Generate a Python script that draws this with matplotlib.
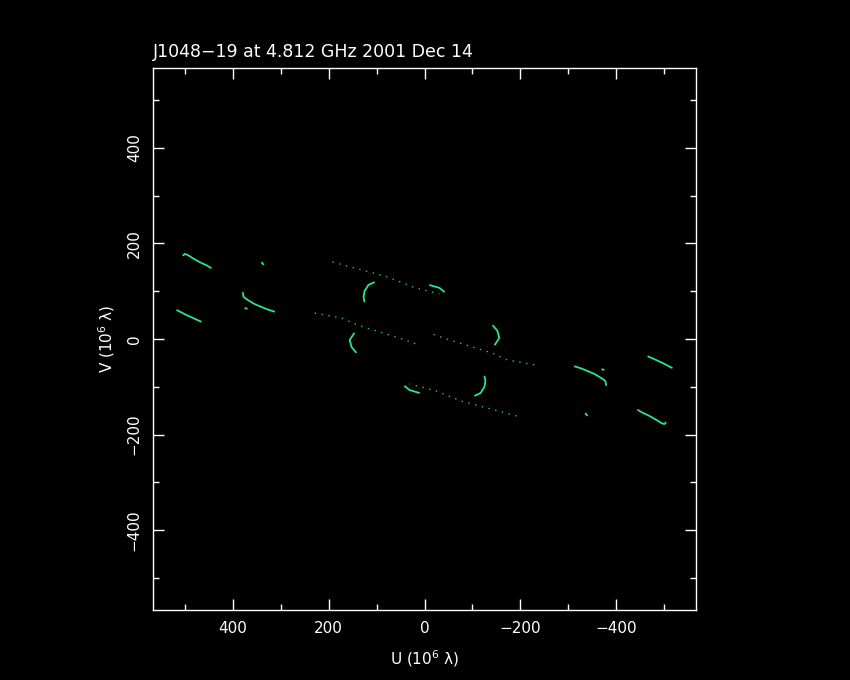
import matplotlib.pyplot as plt
import numpy as np

title = 'J1048\u221219 at 4.812 GHz 2001 Dec 14'

# uv tracks in units of 10^6 wavelengths (one half; the other half is the conjugate -u,-v)
arc_u = [
    [504, 500, 494, 483, 469, 454, 444],
    [517, 500, 483, 465],
    [379, 377, 369, 354, 340, 325, 312],
    [375, 369],
    [340, 335],
    [104, 117, 125, 127, 125],
    [146, 156, 152, 142],
    [-10, -31, -42],
]
arc_v = [
    [174, 178, 176, 169, 161, 154, 148],
    [61, 52, 44, 36],
    [98, 88, 82, 73, 67, 61, 57],
    [65, 63],
    [161, 155],
    [119, 113, 100, 88, 77],
    [13, -2, -17, -29],
    [113, 107, 98],
]

# sparsely sampled (dotted) tracks
dot_u = [
    [192, 129, 77, 25, -31],
    [229, 173, 140, 94, 52, 10],
]
dot_v = [
    [161, 144, 130, 109, 94],
    [54, 44, 29, 15, 2, -13],
]

green = '#2ae48a'
dimgreen = '#22c878'

fig = plt.figure(figsize=(8.5, 6.8), dpi=100, facecolor='black')
ax = fig.add_axes([153/850, 70/680, 543/850, 542/680], facecolor='black')

for u, v in zip(arc_u, arc_v):
    u = np.array(u)
    v = np.array(v)
    ax.plot(u, v, color=green, lw=1.3, solid_capstyle='butt')
    ax.plot(-u, -v, color=green, lw=1.3, solid_capstyle='butt')

for u, v in zip(dot_u, dot_v):
    u = np.array(u)
    v = np.array(v)
    ax.plot(u, v, color=dimgreen, lw=1.0, linestyle=(0, (1, 4)))
    ax.plot(-u, -v, color=dimgreen, lw=1.0, linestyle=(0, (1, 4)))

ax.set_xlim(566, -566)
ax.set_ylim(-567, 567)

ax.set_xticks([400, 200, 0, -200, -400])
ax.set_yticks([-400, -200, 0, 200, 400])
ax.set_xticks(np.arange(-500, 501, 200), minor=True)
ax.set_yticks(np.arange(-500, 501, 200), minor=True)

for s in ax.spines.values():
    s.set_color('white')
    s.set_linewidth(1)

ax.tick_params(which='both', direction='in', colors='white', top=True, right=True,
               width=1)
ax.tick_params(which='major', length=8, labelsize=11, pad=8)
ax.tick_params(which='minor', length=4)
for lab in ax.get_yticklabels():
    lab.set_rotation(90)
    lab.set_va('center')

ax.set_xlabel('U (10$^6$ \u03bb)', color='white', fontsize=11, labelpad=9)
ax.set_ylabel('V (10$^6$ \u03bb)', color='white', fontsize=11, labelpad=7)
ax.set_title(title, loc='left', color='white', fontsize=12.5, pad=8)

fig.savefig('out.png', dpi=100, facecolor='black')
